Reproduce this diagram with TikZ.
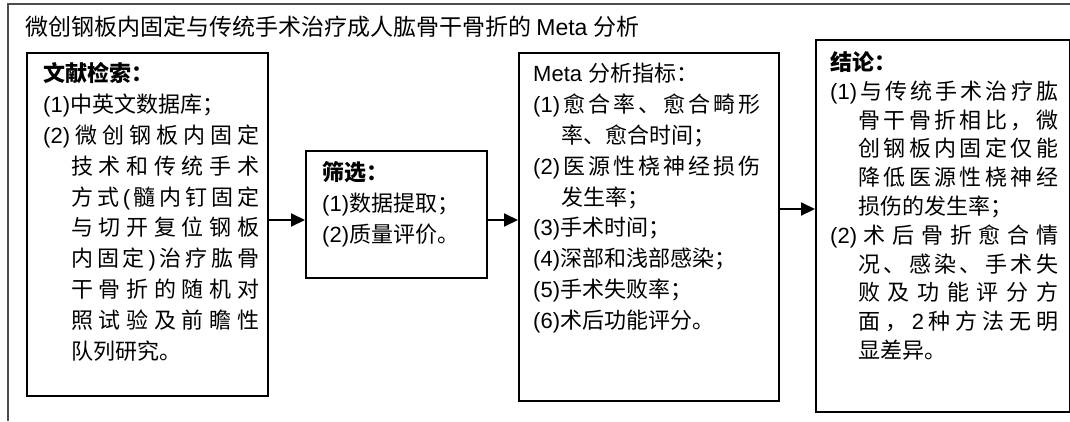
\documentclass[tikz,border=0pt]{standalone}
\usepackage{fontspec}
\setmainfont{Liberation Sans}
\newfontfamily\cjkf{Noto Sans CJK SC}
\usetikzlibrary{arrows.meta}
\XeTeXinterchartokenstate=1
\newXeTeXintercharclass\cjkc
\newcount\mycnt
\mycnt="3000 \loop \XeTeXcharclass\mycnt=\cjkc \advance\mycnt by 1 \ifnum\mycnt<"3040 \repeat
\mycnt="4E00 \loop \XeTeXcharclass\mycnt=\cjkc \advance\mycnt by 1 \ifnum\mycnt<"A000 \repeat
\mycnt="FF00 \loop \XeTeXcharclass\mycnt=\cjkc \advance\mycnt by 1 \ifnum\mycnt<"FFF0 \repeat
\XeTeXinterchartoks 0 \cjkc = {\cjkf}
\XeTeXinterchartoks 4095 \cjkc = {\cjkf}
\XeTeXinterchartoks \cjkc 0 = {\rmfamily}
\XeTeXinterchartoks 4095 0 = {\rmfamily}
\makeatletter
\newcommand\spr[2]{\makebox[#1][s]{\spr@first#2\spr@end}}
\def\spr@first#1{#1\spr@rest}
\def\spr@rest#1{\ifx\spr@end#1\else\hfil#1\expandafter\spr@rest\fi}
\def\spr@end{\spr@end}
\makeatother
\begin{document}
\begin{tikzpicture}[x=1pt,y=-1pt,
  box/.style={draw=black, line width=2pt, anchor=north west, inner sep=0pt},
  tline/.style={anchor=base west, inner sep=0pt, font=\fontsize{22}{26}\selectfont},
  ttl/.style={anchor=base west, inner sep=0pt, font=\fontsize{23}{27}\selectfont},
  frame/.style={draw=black!70, line width=1.3pt},
  arr/.style={-{Triangle[length=14pt,width=13pt]}, line width=2pt}]
\useasboundingbox (0,0) rectangle (1070,421);
\draw[frame] (1070,4) -- (8,4) -- (8,421);
\node[ttl] (title) at (25,35.7) {微创钢板内固定与传统手术治疗成人肱骨干骨折的 Meta 分析};
% boxes
\node[box, minimum width=241pt, minimum height=343pt] (b1) at (26,52) {};
\node[box, minimum width=181pt, minimum height=127pt] (b2) at (305,150) {};
\node[box, minimum width=260pt, minimum height=348pt] (b3) at (518,52) {};
\node[box, minimum width=254pt, minimum height=372pt] (b4) at (815,39) {};
% box 1
\node[tline] (t1a) at (43,81.4) {\textbf{文献检索：}};
\node[tline] (t1b) at (43,112.3) {(1)中英文数据库；};
\node[tline] (t1c) at (43,143.2) {\spr{216pt}{{(2)}微创钢板内固定}};
\node[tline] (t1d) at (71,174.1) {\spr{188pt}{技术和传统手术}};
\node[tline] (t1e) at (71,205) {\spr{188pt}{方式{(}髓内钉固定}};
\node[tline] (t1f) at (71,235.9) {\spr{188pt}{与切开复位钢板}};
\node[tline] (t1g) at (71,266.8) {\spr{188pt}{内固定{)}治疗肱骨}};
\node[tline] (t1h) at (71,297.7) {\spr{188pt}{干骨折的随机对}};
\node[tline] (t1i) at (71,328.6) {\spr{188pt}{照试验及前瞻性}};
\node[tline] (t1j) at (71,359.5) {队列研究。};
% box 2
\node[tline] (t2a) at (322,180.4) {\textbf{筛选：}};
\node[tline] (t2b) at (322,211.3) {(1)数据提取；};
\node[tline] (t2c) at (322,242.2) {(2)质量评价。};
% box 3
\node[tline] (t3a) at (533,81.4) {Meta 分析指标：};
\node[tline] (t3b) at (533,112.3) {\spr{227pt}{{(1)}愈合率、愈合畸形}};
\node[tline] (t3c) at (561,143.2) {率、愈合时间；};
\node[tline] (t3d) at (533,174.1) {\spr{227pt}{{(2)}医源性桡神经损伤}};
\node[tline] (t3e) at (561,205) {发生率；};
\node[tline] (t3f) at (533,235.9) {(3)手术时间；};
\node[tline] (t3g) at (533,266.8) {(4)深部和浅部感染；};
\node[tline] (t3h) at (533,297.7) {(5)手术失败率；};
\node[tline] (t3i) at (533,328.6) {(6)术后功能评分。};
% box 4
\node[tline] (t4a) at (830,70.4) {\textbf{结论：}};
\node[tline] (t4b) at (830,99.2) {\spr{228pt}{{(1)}与传统手术治疗肱}};
\node[tline] (t4c) at (858,128) {\spr{200pt}{骨干骨折相比，微}};
\node[tline] (t4d) at (858,156.8) {\spr{200pt}{创钢板内固定仅能}};
\node[tline] (t4e) at (858,185.6) {\spr{200pt}{降低医源性桡神经}};
\node[tline] (t4f) at (858,214.4) {损伤的发生率；};
\node[tline] (t4g) at (830,243.2) {\spr{228pt}{{(2)}术后骨折愈合情}};
\node[tline] (t4h) at (858,272) {\spr{200pt}{况、感染、手术失}};
\node[tline] (t4i) at (858,300.8) {\spr{200pt}{败及功能评分方}};
\node[tline] (t4j) at (858,329.6) {\spr{200pt}{面，{2}种方法无明}};
\node[tline] (t4k) at (858,358.4) {显差异。};
% arrows
\coordinate (a1) at (0,220);
\coordinate (a3) at (0,209);
\draw[arr] (b1.east |- a1) -- (b2.west |- a1);
\draw[arr] (b2.east |- a1) -- (b3.west |- a1);
\draw[arr] (b3.east |- a3) -- (b4.west |- a3);
\end{tikzpicture}
\end{document}
